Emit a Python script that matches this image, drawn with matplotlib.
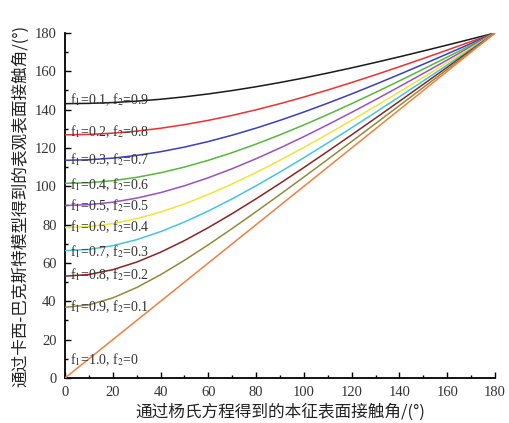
import matplotlib
matplotlib.use("Agg")
import matplotlib.pyplot as plt
from matplotlib.ticker import MultipleLocator

# Young contact angle (x) and Cassie-Baxter apparent angle for each (f1, f2)
young_angle = [0, 10, 20, 30, 40, 50, 60, 70, 80, 90, 100, 110, 120, 130, 140, 150, 160, 170, 180]

cb_f01 = [143.13, 143.28, 143.71, 144.43, 145.43, 146.69, 148.21, 149.97, 151.96, 154.16,
          156.54, 159.10, 161.81, 164.64, 167.58, 170.61, 173.70, 176.84, 180.0]
cb_f02 = [126.87, 127.09, 127.74, 128.81, 130.30, 132.18, 134.43, 137.02, 139.93, 143.13,
          146.59, 150.27, 154.16, 158.21, 162.40, 166.71, 171.09, 175.53, 180.0]
cb_f03 = [113.58, 113.86, 114.71, 116.12, 118.05, 120.47, 123.37, 126.68, 130.38, 134.43,
          138.77, 143.38, 148.21, 153.23, 158.41, 163.70, 169.08, 174.53, 180.0]
cb_f04 = [101.54, 101.89, 102.95, 104.69, 107.07, 110.05, 113.58, 117.59, 122.04, 126.87,
          132.03, 137.46, 143.13, 148.99, 155.01, 161.16, 167.39, 173.68, 180.0]
cb_f05 = [90.00, 90.44, 91.73, 93.84, 96.72, 100.29, 104.48, 109.20, 114.41, 120.00,
          125.93, 132.15, 138.59, 145.22, 152.01, 158.91, 165.89, 172.93, 180.0]
cb_f06 = [78.46, 79.00, 80.57, 83.13, 86.58, 90.82, 95.74, 101.23, 107.21, 113.58,
          120.28, 127.24, 134.43, 141.78, 149.27, 156.87, 164.54, 172.26, 180.0]
cb_f07 = [66.42, 67.09, 69.04, 72.17, 76.34, 81.38, 87.13, 93.47, 100.28, 107.46,
          114.93, 122.64, 130.54, 138.59, 146.74, 154.99, 163.29, 171.64, 180.0]
cb_f08 = [53.13, 54.00, 56.51, 60.47, 65.62, 71.69, 78.46, 85.78, 93.50, 101.54,
          109.81, 118.27, 126.87, 135.58, 144.37, 153.23, 162.13, 171.06, 180.0]
cb_f09 = [36.87, 38.16, 41.78, 47.20, 53.88, 61.41, 69.51, 78.01, 86.77, 95.74,
          104.85, 114.07, 123.37, 132.73, 142.13, 151.57, 161.04, 170.51, 180.0]
cb_f10 = [0, 10, 20, 30, 40, 50, 60, 70, 80, 90, 100, 110, 120, 130, 140, 150, 160, 170, 180]

series = [cb_f01, cb_f02, cb_f03, cb_f04, cb_f05, cb_f06, cb_f07, cb_f08, cb_f09, cb_f10]
f1_labels = ["0.1", "0.2", "0.3", "0.4", "0.5", "0.6", "0.7", "0.8", "0.9", "1.0"]
f2_labels = ["0.9", "0.8", "0.7", "0.6", "0.5", "0.4", "0.3", "0.2", "0.1", "0"]
label_y = [145, 128.5, 114, 101, 90, 79, 66, 53.7, 37, 9.5]
colors = ["#1a1a1a", "#f03030", "#3a3ec0", "#56b83a", "#9a50c0",
          "#ece53a", "#45c3e0", "#8a2424", "#8c8c3c", "#f08040"]

xlabel = "通过杨氏方程得到的本征表面接触角/(°)"
ylabel = "通过卡西-巴克斯特模型得到的表观表面接触角/(°)"

plt.rcParams["mathtext.fontset"] = "stix"
cjk = ["Noto Sans CJK SC", "DejaVu Sans"]
serif = ["Liberation Serif", "DejaVu Serif"]

fig = plt.figure(figsize=(5.10, 4.23), dpi=100)
ax = fig.add_axes([0.1275, 0.1064, 0.843, 0.8156])

for ys, c in zip(series, colors):
    ax.plot(young_angle, ys, color=c, lw=1.1, zorder=3)

for f1, f2, yy in zip(f1_labels, f2_labels, label_y):
    ax.text(2, yy, "f$_1$=%s, f$_2$=%s" % (f1, f2), family=serif, fontsize=10,
            color="#333333", va="center", ha="left", zorder=4)

ax.set_xlim(0, 180)
ax.set_ylim(0, 180)
ax.xaxis.set_major_locator(MultipleLocator(20))
ax.xaxis.set_minor_locator(MultipleLocator(10))
ax.yaxis.set_major_locator(MultipleLocator(20))
ax.yaxis.set_minor_locator(MultipleLocator(10))
ax.tick_params(which="major", direction="in", length=4, width=1, labelsize=10.5, pad=6)
ax.tick_params(which="minor", direction="in", length=2.5, width=1)
for lab in ax.get_xticklabels() + ax.get_yticklabels():
    lab.set_family(serif)
    lab.set_color("#333333")

ax.spines["top"].set_visible(False)
ax.spines["right"].set_visible(False)
ax.spines["left"].set_linewidth(1.3)
ax.spines["bottom"].set_linewidth(1.3)

ax.set_xlabel(xlabel, family=cjk, fontsize=12, color="#222222", labelpad=3)
ax.set_ylabel(ylabel, family=cjk, fontsize=12, color="#222222", labelpad=4)

fig.savefig("out.png", dpi=100)
